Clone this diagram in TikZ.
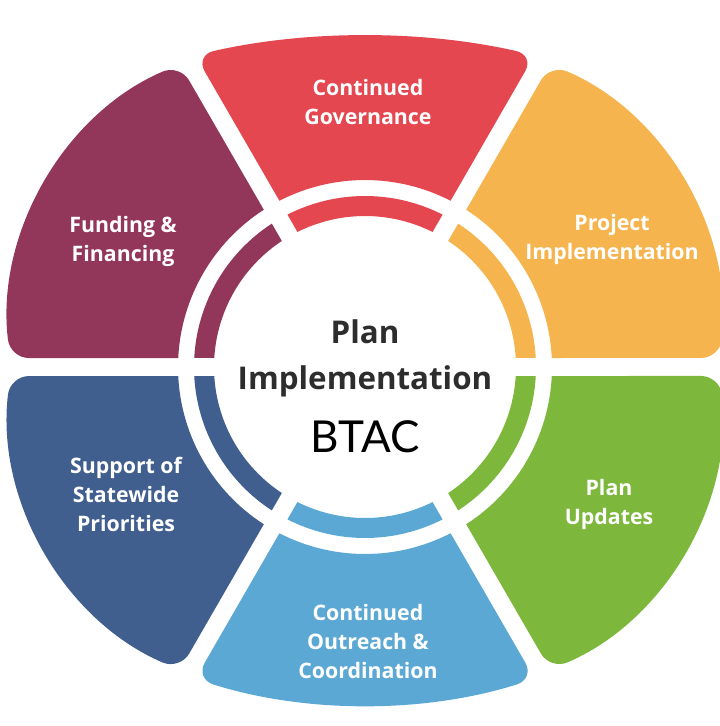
\documentclass[tikz,border=0pt]{standalone}
\usepackage{fontspec}
\setmainfont{Open Sans}
\newfontfamily\btacfont{Lato}
\usetikzlibrary{positioning}

\definecolor{segred}{RGB}{229,71,80}
\definecolor{segorange}{RGB}{246,180,78}
\definecolor{seggreen}{RGB}{125,184,61}
\definecolor{segsky}{RGB}{92,168,212}
\definecolor{segnavy}{RGB}{64,94,142}
\definecolor{segplum}{RGB}{146,54,90}
\definecolor{hubtext}{RGB}{45,45,45}

\pgfdeclareradialshading{rimshade}{\pgfpoint{0bp}{0bp}}{color(0bp)=(white); color(36bp)=(white); color(44bp)=(black!9); color(50bp)=(black!38)}

\tikzset{
  seglabel/.style={text=white, align=center, font=\bfseries\fontsize{16}{21.75}\selectfont},
  hubtitle/.style={text=hubtext, align=center, font=\bfseries\fontsize{23.5}{34.5}\selectfont},
  hubtag/.style={text=black, font=\btacfont\fontsize{33}{36}\selectfont}
}

\begin{document}
\begin{tikzpicture}[x=0.75pt,y=0.75pt,yscale=-1,xscale=1]
\path[use as bounding box] (0,0) rectangle (720,726);

%Shape: Wheel segments and inner ring
\begin{scope}[shift={(365,367)},yscale=-1]
\foreach \ang/\col/\arcr/\arca in {90/segred/762.5/102.85,30/segorange/283.3/126.78,
    -30/seggreen/283.3/126.78,-90/segsky/564.1/107.5,210/segnavy/283.3/126.78,150/segplum/283.3/126.78}{
  \begin{scope}[rotate=\ang-90]
    \fill[\col] (62.76:187) arc[start angle=62.76,end angle=117.24,radius=187]
      [rounded corners=14] -- (118.55:355)
      arc[start angle=\arca,end angle=180-\arca,radius=\arcr]
      [sharp corners] -- cycle;
    \fill[\col] (63.02:171) arc[start angle=63.02,end angle=116.98,radius=171]
      -- (116.58:151) arc[start angle=116.58,end angle=63.42,radius=151] -- cycle;
  \end{scope}
}
%Shape: Hub
\shade[shading=rimshade] (0,0) circle[radius=149];
\end{scope}

% Text Node
\node[seglabel] (gov) at (368,102) {Continued\\Governance};
\node[seglabel] (proj) at (612,239) {Project\\Implementation};
\node[seglabel] (upd) at (609,504) {Plan\\Updates};
\node[seglabel] (outreach) at (368,641) {Continued\\Outreach \&\\Coordination};
\node[seglabel] (support) at (126,494) {Support of\\Statewide\\Priorities};
\node[seglabel] (funding) at (123,241) {Funding \&\\Financing};
% Hub text
\node[hubtitle] (title) at (365,358) {Plan\\Implementation};
\node[hubtag] (btac) at (365,437) {BTAC};

\end{tikzpicture}
\end{document}
